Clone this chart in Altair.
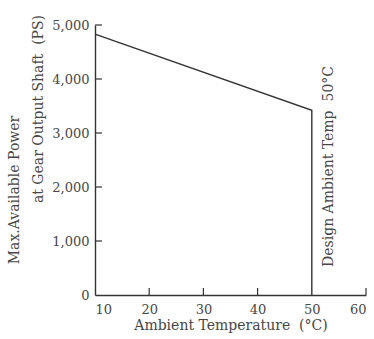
import altair as alt
import pandas as pd

temps = [10, 50, 50]
power = [4830, 3420, 0]
order = [0, 1, 2]
tick_x = [20, 30, 40, 60]
tick_y = [1000, 2000, 3000, 4000, 5000]
y_title = ["Max.Available Power", "at Gear Output Shaft\u00a0\u00a0(PS)"]
x_title = "Ambient Temperature\u00a0\u00a0(°C)"
note = "Design Ambient Temp\u00a0\u00a050°C"

FONT = "DejaVu Serif"
INK = "#474747"

df = pd.DataFrame({"t": temps, "p": power, "o": order})
W, H = 271, 270

xs = alt.Scale(domain=[10, 60], nice=False)
ys = alt.Scale(domain=[0, 5000], nice=False)

line = alt.Chart(df).mark_line(color="#333333", strokeWidth=1.4).encode(
    x=alt.X("t:Q", scale=xs,
            axis=alt.Axis(values=[10, 20, 30, 40, 50, 60], tickSize=0, labelPadding=8,
                          title=x_title, titlePadding=2)),
    y=alt.Y("p:Q", scale=ys,
            axis=alt.Axis(values=[0, 1000, 2000, 3000, 4000, 5000], format=",d", tickSize=0,
                          labelPadding=6, title=None)),
    order="o:Q",
)

xt = alt.Chart(pd.DataFrame({"v": tick_x})).mark_rule(color="#333333", strokeWidth=1.2).encode(
    x=alt.X("v:Q", scale=xs), y=alt.value(H), y2=alt.value(H - 7))
yt = alt.Chart(pd.DataFrame({"v": tick_y})).mark_rule(color="#333333", strokeWidth=1.2).encode(
    y=alt.Y("v:Q", scale=ys), x=alt.value(0), x2=alt.value(7))

label = alt.Chart(pd.DataFrame({"t": [50], "s": [note]})).mark_text(
    angle=270, align="left", baseline="middle", font=FONT, fontSize=14, color=INK, dx=0, dy=17
).encode(x=alt.X("t:Q", scale=xs), y=alt.value(H - 28), text="s:N")

yt1 = alt.Chart(pd.DataFrame({"s": [y_title[0]]})).mark_text(
    angle=270, align="center", baseline="middle", font=FONT, fontSize=14, color=INK
).encode(x=alt.value(-80), y=alt.value(165), text="s:N")
yt2 = alt.Chart(pd.DataFrame({"s": [y_title[1]]})).mark_text(
    angle=270, align="center", baseline="middle", font=FONT, fontSize=14, color=INK
).encode(x=alt.value(-56), y=alt.value(84), text="s:N")

chart = alt.layer(line, xt, yt, label, yt1, yt2).properties(
    width=W, height=H,
    autosize=alt.AutoSizeParams(type="none"),
    padding={"left": 95, "top": 25, "right": 8, "bottom": 44},
).configure_axis(
    labelFont=FONT, titleFont=FONT, labelFontSize=13, titleFontSize=14,
    labelColor=INK, titleColor=INK, domainColor="#333333", domainWidth=1.4,
    grid=False, titleFontWeight="normal",
).configure_view(stroke=None)

chart.save("out.html", embed_options={"renderer": "svg", "actions": False})
